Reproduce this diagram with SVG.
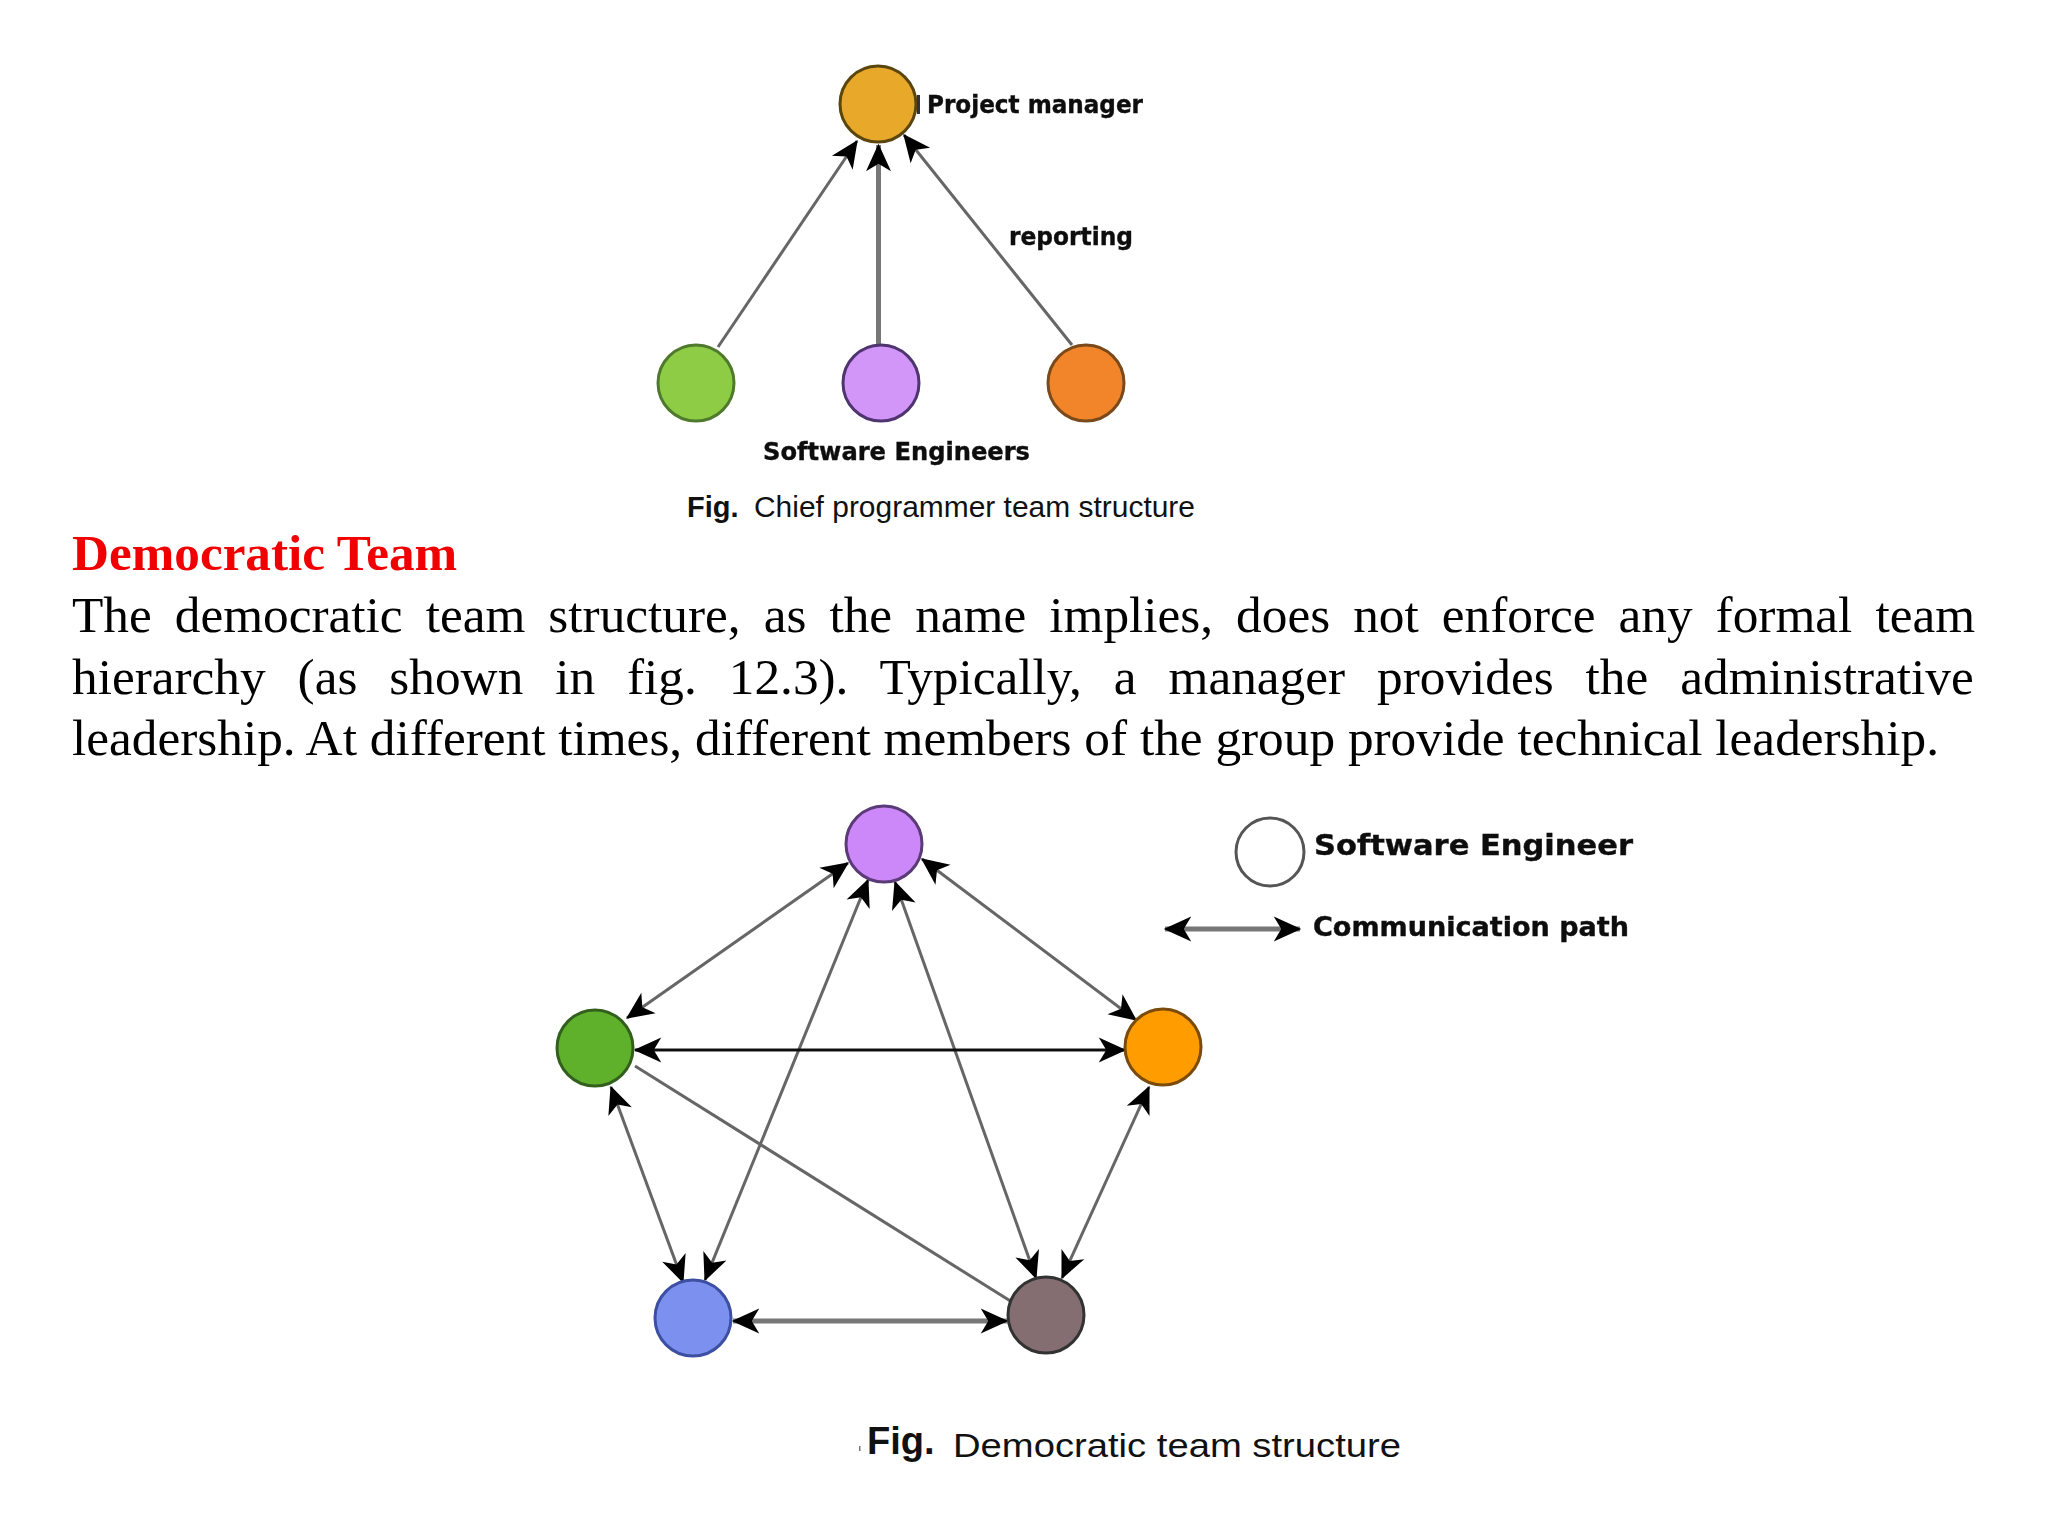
<svg xmlns="http://www.w3.org/2000/svg" width="2048" height="1536" viewBox="0 0 2048 1536">
<style>
.body{font-family:"Liberation Serif","Times New Roman",serif;font-size:51.3px;fill:#000}
.head{font-family:"Liberation Serif","Times New Roman",serif;font-size:51.2px;font-weight:bold;fill:#f00000}
.cap{font-family:"Liberation Sans",Arial,sans-serif;font-size:29px;fill:#111}
.capb{font-family:"Liberation Sans",Arial,sans-serif;font-size:29px;font-weight:bold;fill:#111}
.lab{font-family:"DejaVu Sans",sans-serif;font-size:24px;font-weight:bold;fill:#111;stroke:#111;stroke-width:.4;filter:url(#soft)}
.l{fill:none;stroke:#666;stroke-width:3;marker-end:url(#ah);marker-start:url(#ah)}
.s{marker-start:none}
.n{marker-start:none;marker-end:none}
.t{stroke:#777;stroke-width:5}
.k{stroke:#111;stroke-width:3}
</style>
<defs>
<filter id="soft" x="-10%" y="-10%" width="120%" height="120%"><feGaussianBlur stdDeviation="0.7"/></filter>
<marker id="ah" viewBox="0 0 24 24" refX="22" refY="12" markerWidth="30" markerHeight="30" markerUnits="userSpaceOnUse" orient="auto-start-reverse"><path d="M23 12L1 2L7 12L1 22Z" fill="#000"/></marker>
</defs>
<rect width="2048" height="1536" fill="#fff"/>
<g id="connectors" filter="url(#soft)">
<line class="l s" x1="718" y1="347" x2="857" y2="141"/>
<line class="l s t" x1="881" y1="347" x2="881" y2="145" transform="translate(-2.5 0)"/>
<line class="l s" x1="1072" y1="345" x2="904" y2="135"/>
<line class="l" x1="848" y1="863" x2="627" y2="1018"/>
<line class="l" x1="922" y1="859" x2="1136" y2="1020"/>
<line class="l" x1="868" y1="880" x2="705" y2="1280"/>
<line class="l" x1="895" y1="882" x2="1036" y2="1278"/>
<line class="l k" x1="635" y1="1050" x2="1125" y2="1050"/>
<line class="l" x1="611" y1="1087" x2="683" y2="1282"/>
<line class="l" x1="1149" y1="1087" x2="1062" y2="1278"/>
<line class="l n" x1="635" y1="1066" x2="1012" y2="1302"/>
<line class="l t" x1="733" y1="1321" x2="1007" y2="1321"/>
<line class="l t" x1="1165" y1="929" x2="1300" y2="929"/>
</g>
<g id="pm" filter="url(#soft)"><circle cx="878" cy="104" r="38" fill="#E8A92A" stroke="#5a4510" stroke-width="3"/><rect x="917" y="95" width="3" height="19" fill="#333"/></g>
<g id="se1" filter="url(#soft)"><circle cx="696" cy="383" r="38" fill="#8FCC45" stroke="#4f7a2e" stroke-width="3"/></g>
<g id="se2" filter="url(#soft)"><circle cx="881" cy="383" r="38" fill="#D296F8" stroke="#4f3570" stroke-width="3"/></g>
<g id="se3" filter="url(#soft)"><circle cx="1086" cy="383" r="38" fill="#F28429" stroke="#7a4a1a" stroke-width="3"/></g>
<g id="d-purple" filter="url(#soft)"><circle cx="884" cy="844" r="38" fill="#CC88F8" stroke="#5a3a78" stroke-width="3"/></g>
<g id="d-green" filter="url(#soft)"><circle cx="595" cy="1048" r="38" fill="#5FB02C" stroke="#33601f" stroke-width="3"/></g>
<g id="d-orange" filter="url(#soft)"><circle cx="1163" cy="1047" r="38" fill="#FF9C00" stroke="#7a4c08" stroke-width="3"/></g>
<g id="d-blue" filter="url(#soft)"><circle cx="693" cy="1318" r="38" fill="#7B90F0" stroke="#3d4fa0" stroke-width="3"/></g>
<g id="d-brown" filter="url(#soft)"><circle cx="1046" cy="1315" r="38" fill="#846E72" stroke="#333" stroke-width="3"/></g>
<g id="legend-engineer" filter="url(#soft)"><circle cx="1270" cy="852" r="34" fill="#fff" stroke="#555" stroke-width="3"/></g>
<g id="labels">
<text class="lab" x="927" y="113" textLength="216" lengthAdjust="spacingAndGlyphs">Project manager</text>
<text class="lab" x="1009" y="245" textLength="124" lengthAdjust="spacingAndGlyphs">reporting</text>
<text class="lab" x="763" y="460" textLength="267" lengthAdjust="spacingAndGlyphs">Software Engineers</text>
<text class="lab" x="1314" y="855" style="font-size:28px" textLength="319" lengthAdjust="spacingAndGlyphs">Software Engineer</text>
<text class="lab" x="1313" y="936" style="font-size:26px" textLength="316" lengthAdjust="spacingAndGlyphs">Communication path</text>
<text class="capb" x="687" y="517">Fig.</text>
<text class="cap" x="754" y="517" textLength="441" lengthAdjust="spacingAndGlyphs">Chief programmer team structure</text>
<rect x="859" y="1446" width="1.5" height="5" fill="#777"/>
<text class="capb" x="867" y="1454" style="font-size:38px">Fig.</text>
<text class="cap" x="953" y="1457" style="font-size:33px" textLength="448" lengthAdjust="spacingAndGlyphs">Democratic team structure</text>
</g>
<g id="text">
<text class="head" x="72" y="570">Democratic Team</text>
<text class="body" x="72" y="632" word-spacing="10.2">The democratic team structure, as the name implies, does not enforce any formal team</text>
<text class="body" x="72" y="694" word-spacing="19.1">hierarchy (as shown in fig. 12.3). Typically, a manager provides the administrative</text>
<text class="body" x="72" y="755">leadership. At different times, different members of the group provide technical leadership.</text>
</g>
</svg>
